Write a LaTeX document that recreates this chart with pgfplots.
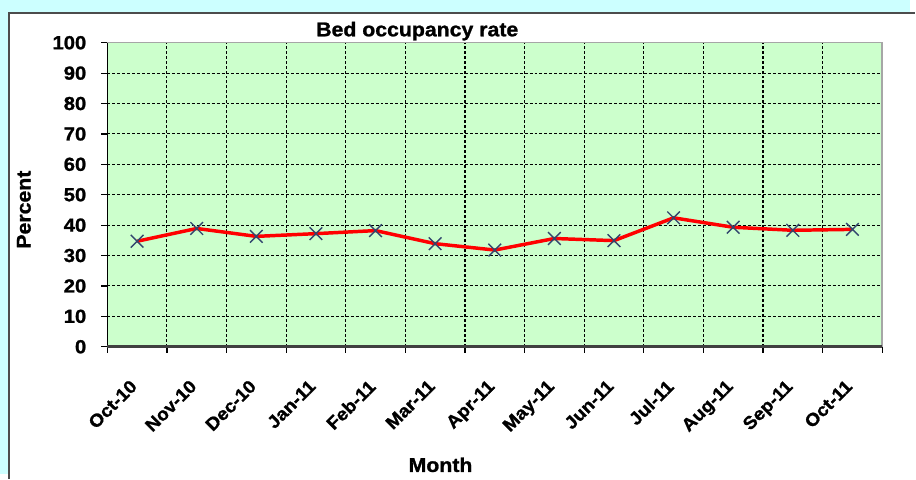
\documentclass[border=0pt]{standalone}
\usepackage{pgfplots}
\pgfplotsset{compat=1.18}
\usepackage{fontspec}
\setmainfont{Liberation Sans}[BoldFeatures={FakeStretch=1.07,FakeBold=1.2}]
\definecolor{bgcyan}{RGB}{204,255,255}
\definecolor{plotgreen}{RGB}{204,255,204}
\definecolor{markblue}{RGB}{50,70,110}
\begin{document}
\begin{tikzpicture}
\fill[bgcyan] (0pt,0pt) rectangle (916pt,477pt);
\fill[white] (9pt,-5pt) rectangle (921pt,464pt);
\draw[draw=gray!60!black, line width=2pt] (9pt,-5pt) -- (9pt,464pt) -- (921pt,464pt);
\path[use as bounding box] (0pt,0pt) rectangle (916pt,477pt);
\begin{axis}[
  at={(108pt,128pt)}, anchor=south west,
  scale only axis, width=780pt, height=306pt,
  xmin=-0.5, xmax=12.5, ymin=0, ymax=100,
  xtick={-0.5,0.5,1.5,2.5,3.5,4.5,5.5,6.5,7.5,8.5,9.5,10.5,11.5,12.5},
  xticklabels={Oct-10,Nov-10,Dec-10,Jan-11,Feb-11,Mar-11,Apr-11,May-11,Jun-11,Jul-11,Aug-11,Sep-11,Oct-11,{}},
  ytick={0,10,...,100},
  tick pos=left,
  xmajorgrids, ymajorgrids,
  grid style={black, line width=1.1pt, dash pattern=on 3pt off 2pt},
  tick align=outside,
  major tick length=6pt,
  tick style={black, line width=1.2pt},
  axis background/.style={fill=plotgreen},
  axis line style={draw=gray!70, line width=1.5pt},
  /pgf/number format/assume math mode=true,
  tick label style={font=\fontsize{19}{22}\selectfont\bfseries},
  yticklabel style={inner sep=0pt, anchor=east, xshift=-15pt},
  xticklabel style={font=\fontsize{18}{21}\selectfont\bfseries, inner sep=0pt, xshift=22pt, yshift=-26pt, rotate=45, anchor=north east},
  title={Bed occupancy rate},
  title style={font=\fontsize{20}{24}\selectfont\bfseries, at={(axis description cs:0.4,1.0016)}, anchor=base},
  xlabel={Month},
  xlabel style={font=\fontsize{20}{24}\selectfont\bfseries, at={(axis description cs:0.43,-0.4118)}, anchor=base},
  ylabel={Percent},
  ylabel style={font=\fontsize{20}{24}\selectfont\bfseries, at={(axis description cs:-0.1077,0.451)}, anchor=center, rotate=0},
  clip=false,
]
\addplot[red, line width=3.5pt, mark=x, mark size=9pt,
  mark options={draw=markblue, line width=1.4pt}] coordinates {
  (0,34.7) (1,38.9) (2,36.3) (3,37.2) (4,38.2) (5,33.9) (6,31.8)
  (7,35.6) (8,34.9) (9,42.4) (10,39.3) (11,38.3) (12,38.6)
};
\draw[black, line width=1.5pt] (rel axis cs:0,0) -- (rel axis cs:0,1);
\draw[gray!50!black, line width=2.5pt] (rel axis cs:0,0) -- (rel axis cs:1,0);
\end{axis}
\end{tikzpicture}
\end{document}
